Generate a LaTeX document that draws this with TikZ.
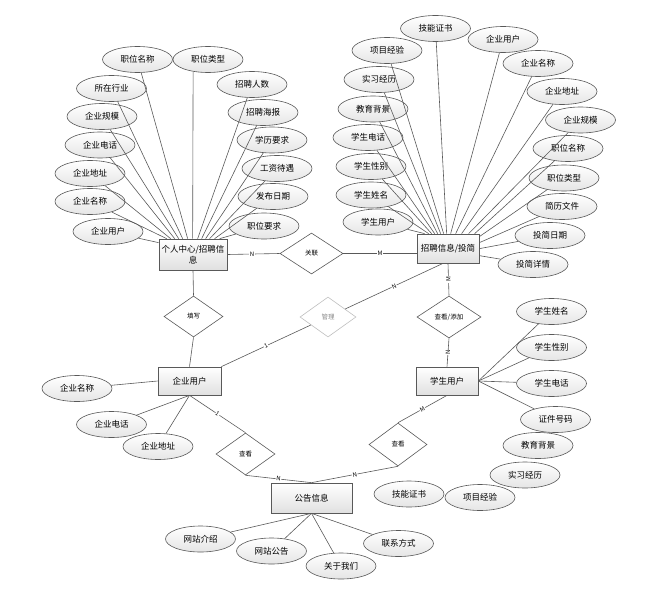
\documentclass[tikz,border=0pt]{standalone}
\usepackage{fontspec}
\newfontfamily\cjk{Noto Sans CJK SC}
\usetikzlibrary{shapes.geometric,shadows,calc}
\tikzset{
 lnk/.style={draw=black!65, line width=0.6pt},
 ent/.style={rectangle, draw=black!65, line width=0.7pt, top color=white, bottom color=black!12,
   drop shadow={shadow xshift=1.2pt, shadow yshift=-1.2pt, opacity=0.3},
   inner sep=1pt, font=\cjk\fontsize{8.5}{11}\selectfont, align=center},
 attr/.style={ellipse, draw=black!65, line width=0.6pt, top color=white, bottom color=black!10,
   minimum width=70pt, minimum height=26pt, inner sep=0pt, font=\cjk\fontsize{8.5}{10}\selectfont},
 rel/.style={diamond, draw=black!65, line width=0.6pt, fill=white, inner sep=0pt,
   font=\cjk\fontsize{6.5}{7}\selectfont},
 card/.style={fill=white, inner sep=0.6pt, font=\cjk\fontsize{6}{7}\selectfont},
}
\begin{document}
\begin{tikzpicture}[x=1pt,y=-1pt]
\useasboundingbox (0,0) rectangle (650,591);
% entities
\node[ent, minimum width=68pt, minimum height=31pt] (pc) at (193,254.5) {个人中心/招聘信\\息};
\node[ent, minimum width=62pt, minimum height=29pt] (b2) at (448,248.5) {招聘信息/投简};
\node[ent, minimum width=63pt, minimum height=28pt] (eu) at (189.5,381) {企业用户};
\node[ent, minimum width=62pt, minimum height=28pt] (su) at (447,381) {学生用户};
\node[ent, minimum width=81pt, minimum height=30pt] (gg) at (311.5,498) {公告信息};
% relations
\node[rel, minimum width=63pt, minimum height=41pt] (gl) at (311.5,253.5) {关联};
\node[rel, minimum width=59pt, minimum height=41pt] (tx) at (193.5,316.5) {填写};
\node[rel, minimum width=56pt, minimum height=40pt, draw=black!25, text=black!45] (gm) at (328,317) {管理};
\node[rel, minimum width=64pt, minimum height=42pt] (ck1) at (449,317) {查看/添加};
\node[rel, minimum width=58pt, minimum height=43pt] (ckr) at (398,444.5) {查看};
\node[rel, minimum width=59pt, minimum height=42pt] (ckl) at (245.5,454) {查看};
% top-left attributes
\node[attr] (tzwmc) at (137.5,59.5) {职位名称};
\node[attr] (tzwlx) at (208,59.5) {职位类型};
\node[attr] (tszhy) at (111.5,88.5) {所在行业};
\node[attr] (tzprs) at (252,84.5) {招聘人数};
\node[attr] (tqygm) at (102,116.5) {企业规模};
\node[attr] (tzphb) at (263,112.5) {招聘海报};
\node[attr] (tqydh) at (100,145) {企业电话};
\node[attr] (txlyq) at (272,140) {学历要求};
\node[attr] (tqydz) at (90,173.5) {企业地址};
\node[attr] (tgzdy) at (277,168.5) {工资待遇};
\node[attr] (tqymc) at (90,201.5) {企业名称};
\node[attr] (tfbrq) at (273,196.5) {发布日期};
\node[attr] (tqyyh) at (108,231.5) {企业用户};
\node[attr] (tzwyq) at (264,226) {职位要求};
% top-right attributes
\node[attr] (rjnzs) at (435.5,28.5) {技能证书};
\node[attr] (rxmjy) at (387,50.5) {项目经验};
\node[attr] (rqyyh) at (503,39.5) {企业用户};
\node[attr] (rsxjl) at (379,79.5) {实习经历};
\node[attr] (rqymc) at (538,63.5) {企业名称};
\node[attr] (rjybj) at (373,109) {教育背景};
\node[attr] (rqydz) at (562,91.5) {企业地址};
\node[attr] (rxsdh) at (368,137.5) {学生电话};
\node[attr] (rqygm) at (580.5,120) {企业规模};
\node[attr] (rxsxb) at (371,166.5) {学生性别};
\node[attr] (rzwmc) at (568,148.5) {职位名称};
\node[attr] (rxsxm) at (371,195) {学生姓名};
\node[attr] (rzwlx) at (564,178) {职位类型};
\node[attr] (rxsyh) at (378,222) {学生用户};
\node[attr] (rjlwj) at (562,206.5) {简历文件};
\node[attr] (rtjrq) at (550,235.5) {投简日期};
\node[attr] (rtjxq) at (533,264.5) {投简详情};
% enterprise user attributes
\node[attr] (eqymc) at (77,388.5) {企业名称};
\node[attr] (eqydh) at (111.5,424.5) {企业电话};
\node[attr] (eqydz) at (158,446.5) {企业地址};
% student user attributes
\node[attr] (sxsxm) at (551.5,311.5) {学生姓名};
\node[attr] (sxsxb) at (551.5,347.5) {学生性别};
\node[attr] (sxsdh) at (551.5,383.5) {学生电话};
\node[attr] (szjhm) at (555.5,419.5) {证件号码};
\node[attr] (sjybj) at (538,445.5) {教育背景};
\node[attr] (ssxjl) at (525,475) {实习经历};
\node[attr] (sxmjy) at (480,497.5) {项目经验};
\node[attr] (sjnzs) at (409,494) {技能证书};
% notice attributes
\node[attr] (gwzjs) at (200.5,539) {网站介绍};
\node[attr] (gwzgg) at (271.5,551) {网站公告};
\node[attr] (ggywm) at (341,566) {关于我们};
\node[attr] (glxfs) at (398.5,543.5) {联系方式};
% top-left attribute links
\draw[lnk] (tqyyh) -- ($(pc.north west)+(0,4)$);
\draw[lnk] (tqymc) -- ($(pc.north west)+(8,0)$);
\draw[lnk] (tqydz) -- ($(pc.north west)+(12,0)$);
\draw[lnk] (tqydh) -- ($(pc.north west)+(16,0)$);
\draw[lnk] (tqygm) -- ($(pc.north west)+(20,0)$);
\draw[lnk] (tszhy) -- ($(pc.north west)+(24,0)$);
\draw[lnk] (tzwmc) -- ($(pc.north west)+(29,0)$);
\draw[lnk] (tzwlx.219) -- ($(pc.north west)+(34,0)$);
\draw[lnk] (tzprs) -- ($(pc.north west)+(39,0)$);
\draw[lnk] (tzphb) -- ($(pc.north west)+(43,0)$);
\draw[lnk] (txlyq) -- ($(pc.north west)+(47,0)$);
\draw[lnk] (tgzdy) -- ($(pc.north west)+(51,0)$);
\draw[lnk] (tfbrq) -- ($(pc.north west)+(56,0)$);
\draw[lnk] (tzwyq) -- ($(pc.north west)+(61,0)$);
% top-right attribute links
\draw[lnk] (rxsyh) -- ($(b2.north west)+(8,0)$);
\draw[lnk] (rxsxm) -- ($(b2.north west)+(12,0)$);
\draw[lnk] (rxsxb) -- ($(b2.north west)+(15,0)$);
\draw[lnk] (rxsdh) -- ($(b2.north west)+(18,0)$);
\draw[lnk] (rjybj) -- ($(b2.north west)+(21,0)$);
\draw[lnk] (rsxjl) -- ($(b2.north west)+(24,0)$);
\draw[lnk] (rxmjy) -- ($(b2.north west)+(27,0)$);
\draw[lnk] (rjnzs) -- ($(b2.north west)+(30,0)$);
\draw[lnk] (rqyyh) -- ($(b2.north west)+(34,0)$);
\draw[lnk] (rqymc) -- ($(b2.north west)+(39,0)$);
\draw[lnk] (rqydz) -- ($(b2.north west)+(45,0)$);
\draw[lnk] (rqygm) -- ($(b2.north west)+(52,0)$);
\draw[lnk] (rzwmc) -- ($(b2.north west)+(58,0)$);
\draw[lnk] (rzwlx) -- ($(b2.north east)+(0,3)$);
\draw[lnk] (rjlwj) -- ($(b2.north east)+(0,9)$);
\draw[lnk] (rtjrq) -- ($(b2.north east)+(0,15)$);
\draw[lnk] (rtjxq) -- ($(b2.north east)+(0,22)$);
% other attribute links
\draw[lnk] (eqymc) -- (eu.west);
\draw[lnk] (eqydh) -- (eu.south);
\draw[lnk] (eqydz) -- (eu.south);
\draw[lnk] (sxsxm) -- (su.east);
\draw[lnk] (sxsxb) -- (su.east);
\draw[lnk] (sxsdh) -- (su.east);
\draw[lnk] (szjhm) -- (su.east);
\draw[lnk] (gwzjs) -- (gg.south);
\draw[lnk] (gwzgg) -- (gg.south);
\draw[lnk] (ggywm) -- (gg.south);
\draw[lnk] (glxfs) -- (gg.south);
% relationship links
\draw[lnk] (pc.east) -- node[card,pos=0.47]{N} (gl.west);
\draw[lnk] (gl.east) -- node[card]{M} (gl.east -| b2.west);
\draw[lnk] (pc.south) -- (tx.north);
\draw[lnk] (tx.south) -- (eu.north);
\draw[lnk] (eu.north east) -- node[card,sloped]{1} (gm);
\draw[lnk] (gm) -- node[card,sloped]{N} ($(b2.south)+(-5,0)$);
\draw[lnk] (b2.south) -- node[card,rotate=90]{M} (ck1.north);
\draw[lnk] (ck1.south) -- node[card,rotate=90]{N} (su.north);
\draw[lnk] (su.south) -- node[card,sloped]{M} (ckr.north);
\draw[lnk] (ckr.south) -- node[card,sloped]{N} (gg.north);
\draw[lnk] (eu.south) -- node[card,sloped]{1} (ckl.north);
\draw[lnk] (ckl.south) -- node[card,sloped]{N} (gg.north);
\end{tikzpicture}
\end{document}
